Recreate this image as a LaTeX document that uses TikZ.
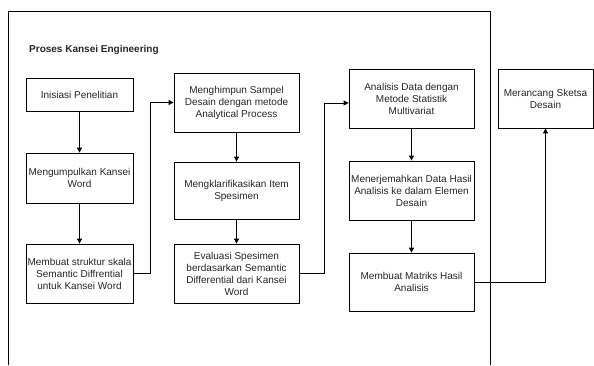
\documentclass[tikz,border=0pt]{standalone}
\usepackage{fontspec}
\setmainfont{Liberation Sans}
\usetikzlibrary{arrows.meta}
\begin{document}
\begin{tikzpicture}[x=1pt,y=-1pt,
  box/.style={draw=black, line width=0.8pt, fill=white, align=center, inner sep=0pt,
    font=\fontsize{10}{12}\selectfont, text=black!85},
  arr/.style={draw=black, line width=0.8pt, -{Triangle[width=5pt,length=5pt]}},
  ln/.style={draw=black, line width=0.8pt}]
\useasboundingbox (0,0) rectangle (594,365);
% outer frame
\draw[ln] (8,365) -- (8,11) -- (490,11) -- (490,365);
\node[anchor=west, font=\bfseries\fontsize{10}{12}\selectfont, text=black!85, inner sep=0pt] (title) at (29,50) {Proses Kansei Engineering};
% column 1
\node[box, minimum width=107pt, minimum height=33pt] (b1) at (79.5,94.5) {Inisiasi Penelitian};
\node[box, minimum width=107pt, minimum height=50pt] (b2) at (79.5,178) {Mengumpulkan Kansei\\Word};
\node[box, minimum width=107pt, minimum height=59pt] (b3) at (79.5,273.5) {Membuat struktur skala\\Semantic Diffrential\\untuk Kansei Word};
% column 2
\node[box, minimum width=125pt, minimum height=59pt] (b4) at (236.5,102.5) {Menghimpun Sampel\\Desain dengan metode\\Analytical Process};
\node[box, minimum width=125pt, minimum height=57pt] (b5) at (236.5,190.5) {Mengklarifikasikan Item\\Spesimen};
\node[box, minimum width=125pt, minimum height=59pt] (b6) at (236.5,273.5) {Evaluasi Spesimen\\berdasarkan Semantic\\Differential dari Kansei\\Word};
% column 3
\node[box, minimum width=125pt, minimum height=59pt] (b7) at (411.5,98.5) {Analisis Data dengan\\Metode Statistik\\Multivariat};
\node[box, minimum width=125pt, minimum height=59pt] (b8) at (411.5,190.5) {Menerjemahkan Data Hasil\\Analisis ke dalam Elemen\\Desain};
\node[box, minimum width=125pt, minimum height=58pt] (b9) at (411.5,282) {Membuat Matriks Hasil\\Analisis};
% outside
\node[box, minimum width=95pt, minimum height=59pt] (b10) at (545.5,98.5) {Merancang Sketsa\\Desain};
% connectors
\draw[arr] (b1) -- (b2);
\draw[arr] (b2) -- (b3);
\draw[arr] (b3.east) -- (150,273.5) |- (b4.west);
\draw[arr] (b4) -- (b5);
\draw[arr] (b5) -- (b6);
\draw[arr] (b6.east) -- (324,273.5) |- ([yshift=-4.5pt]b7.west);
\draw[arr] (b7) -- (b8);
\draw[arr] (b8) -- (b9);
\draw[arr] (b9.east) -| (b10.south);
\end{tikzpicture}
\end{document}
